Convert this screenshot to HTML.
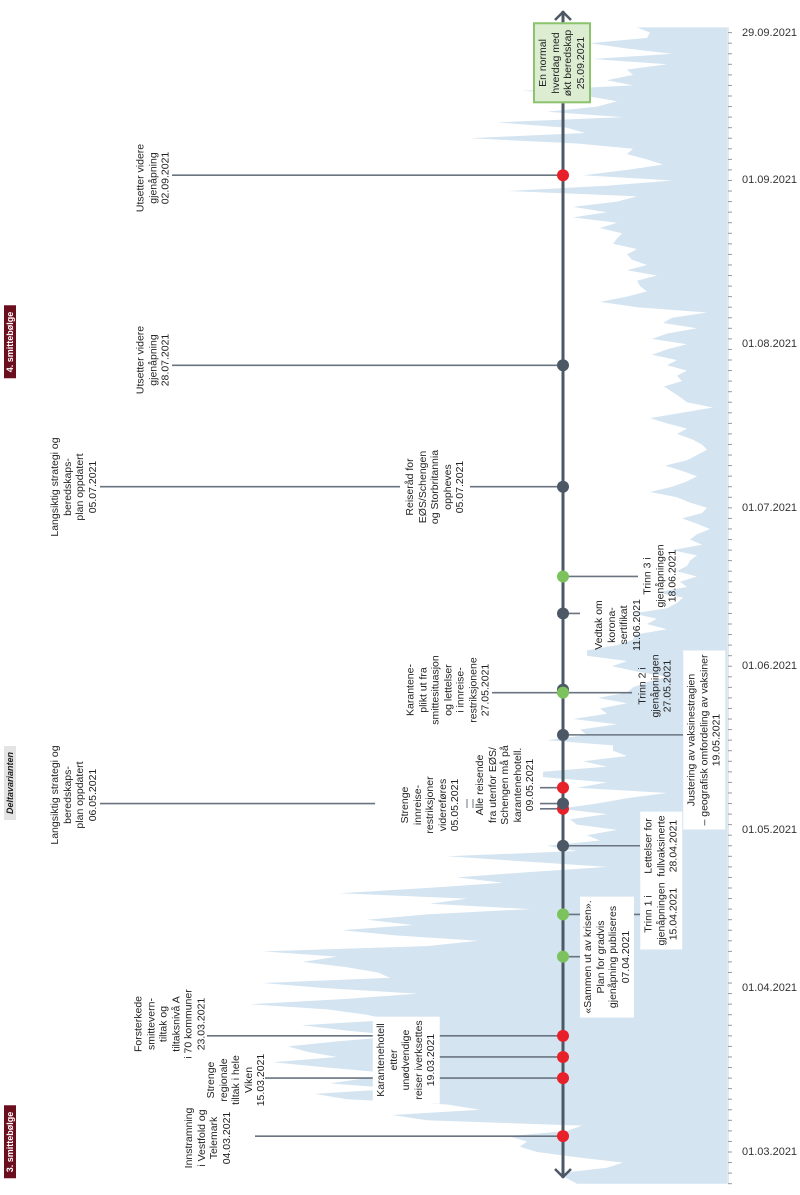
<!DOCTYPE html>
<html><head><meta charset="utf-8">
<style>
html,body{margin:0;padding:0;background:#fff;}
#root{position:relative;width:800px;height:1195px;overflow:hidden;font-family:"Liberation Sans",sans-serif;color:#222;}
svg{position:absolute;left:0;top:0;}
.lbl{position:absolute;white-space:nowrap;text-align:center;font-size:10.5px;line-height:12.5px;transform:translate(-50%,-50%) rotate(-90deg);color:#222;}
.box{background:#fff;padding:2px 4px;}
.gbox{background:#dcedd2;border:2px solid #8cc46e;padding:2px 5px;}
.tag{position:absolute;white-space:nowrap;font-size:9px;font-weight:bold;transform:translate(-50%,-50%) rotate(-90deg);padding:1px 6px;}
.dl{position:absolute;font-size:11px;color:#333;transform:translateY(-50%);}
</style></head>
<body>
<div id="root">
<svg id="chart" width="800" height="1195"></svg>
</div>
<script>
// ---- data ----
const startDate = "2021-02-23"; // first day of case series
const cases = [150,160,167,120,104,150,190,207,200,219,160,145,300,335,247,280,380,412,330,397,360,340,400,454,390,420,439,387,324,380,425,337,360,400,477,380,310,400,464,337,349,380,424,390,464,300,249,330,385,314,360,300,197,297,260,387,300,224,270,200,120,200,280,150,180,127,140,110,150,157,120,167,130,100,60,150,120,184,184,120,144,100,114,114,180,140,147,110,154,120,127,100,129,100,94,80,60,90,115,100,140,140,110,94,92,60,80,70,94,60,50,44,70,40,47,30,50,40,37,30,55,25,37,30,17,30,45,25,20,37,50,77,55,40,30,45,62,40,30,20,25,35,50,40,60,77,45,14,40,47,55,63,45,50,40,60,50,75,60,40,75,60,30,64,55,20,90,127,100,80,87,90,70,100,80,95,100,90,114,110,105,127,110,154,120,154,110,90,220,120,55,144,100,64,80,100,94,150,257,142,160,230,104,180,130,110,140,204,94,120,94,100,60,134,55,100,137,80,77,90];
const tickDates = ["2021-03-01","2021-04-01","2021-05-01","2021-06-01","2021-07-01","2021-08-01","2021-09-01","2021-09-29"];
const tickLabels = ["01.03.2021","01.04.2021","01.05.2021","01.06.2021","01.07.2021","01.08.2021","01.09.2021","29.09.2021"];
const eventDates = ["2021-03-04","2021-03-15","2021-03-19","2021-03-23","2021-04-07","2021-04-15","2021-04-28","2021-05-05","2021-05-06","2021-05-09","2021-05-19","2021-05-27","2021-06-11","2021-06-18","2021-07-05","2021-07-28","2021-09-02"];
const eventTypes = ["red","red","red","red","green","green","dark","red","dark","red","dark","green","dark","green","dark","dark","red"];

// ---- scales ----
const DAY = 86400000;
const t0 = Date.UTC(2021,2,1);
function dayOf(s){const p=s.split("-");return (Date.UTC(+p[0],+p[1]-1,+p[2])-t0)/DAY;}
function yScale(d){return 1152 - d*5.28;}
function xScale(v){return 727 - v;}
const colors = {red:"#e8202a",dark:"#4d5866",green:"#7cc35e"};
const svg = document.getElementById('chart');
const NS = "http://www.w3.org/2000/svg";
function mk(tag, attrs){const e=document.createElementNS(NS,tag);for(const k in attrs)e.setAttribute(k,attrs[k]);svg.appendChild(e);return e;}

// area
const d0 = dayOf(startDate);
let pts = [];
cases.forEach((v,i)=>{pts.push(xScale(v).toFixed(1)+","+yScale(d0+i).toFixed(1));});
const yFirst = yScale(d0), yLast = yScale(d0+cases.length-1);
const area = mk('polygon',{points:"727,"+yFirst.toFixed(1)+" "+pts.join(" ")+" 727,"+yLast.toFixed(1),fill:"#d4e4f1"});



// right axis ticks
const rl = mk('line',{x1:728,y1:yLast,x2:728,y2:yFirst,stroke:"#c9d3dc","stroke-width":1});


for(let d=Math.ceil(d0);d<=d0+cases.length-1;d+=2){
  const t=mk('line',{x1:728,y1:yScale(d),x2:732,y2:yScale(d),stroke:"#999","stroke-width":1});
  
  
}
const root=document.getElementById('root');
tickDates.forEach((s,i)=>{
  const el=document.createElement('div');
  el.className='dl';
  el.style.left='742px';
  el.style.top=yScale(dayOf(s))+'px';
  el.textContent=tickLabels[i];
  
  
  root.appendChild(el);
});

// connector lines
const LC="#6a7480";
function conn(x1,x2,y,name){const l=mk('line',{x1:x1,y1:y,x2:x2,y2:y,stroke:LC,"stroke-width":1.6});}
const E = eventDates.map(s=>yScale(dayOf(s)));
conn(255,563,E[0],'connector-0403');
conn(265,563,E[1],'connector-1503');
conn(434,563,E[2],'connector-1903');
conn(207,563,E[3],'connector-2303');
conn(563,580,E[4],'connector-0704');
conn(563,640,E[5],'connector-1504');
conn(563,640,E[6],'connector-2804');
conn(540,563,E[7],'connector-0505');
conn(100,375,E[8],'connector-0605-left');
conn(540,563,E[8],'connector-0605');
conn(540,563,E[9],'connector-0905');
conn(563,683,E[10],'connector-1905');
conn(492,563,E[11],'connector-2705-left');
conn(563,632,E[11],'connector-2705-right');
conn(563,580,E[12],'connector-1106');
conn(563,638,E[13],'connector-1806');
conn(100,400,E[14],'connector-0507-left');
conn(470,563,E[14],'connector-0507');
conn(172,563,E[15],'connector-2807');
conn(172,563,E[16],'connector-0209');
// small bars
[467,473].forEach(x=>{const l=mk('line',{x1:x,y1:799,x2:x,y2:808,stroke:LC,"stroke-width":1});});

// main axis
const ax=mk('line',{x1:563,y1:11,x2:563,y2:1178,stroke:"#4d5866","stroke-width":3});


const a1=mk('polyline',{points:"555,20 563,12 571,20",fill:"none",stroke:"#4d5866","stroke-width":2.5});


const a2=mk('polyline',{points:"555,1169 563,1177 571,1169",fill:"none",stroke:"#4d5866","stroke-width":2.5});



// dots (dark under others for 27.05)
const ex = mk('circle',{cx:563,cy:E[11]-3,r:6,fill:colors.dark});


eventDates.forEach((s,i)=>{
  const c=mk('circle',{cx:563,cy:E[i],r:6,fill:colors[eventTypes[i]]});
  
  
});

// labels
function label(cx,cy,html,cls,name){
  const el=document.createElement('div');
  el.className='lbl'+(cls?' '+cls:'');
  el.style.left=cx+'px';el.style.top=cy+'px';
  el.innerHTML=html;
  
  
  root.appendChild(el);
}
label(208,1138,"Innstramning<br>i Vestfold og<br>Telemark<br>04.03.2021","",'label-innstramning');
label(236,1080,"Strenge<br>regionale<br>tiltak i hele<br>Viken<br>15.03.2021","",'label-viken');
label(170,1024,"Forsterkede<br>smittevern-<br>tiltak og<br>tiltaksnivå A<br>i 70 kommuner<br>23.03.2021","",'label-forsterkede');
label(406,1060,"Karantenehotell<br>etter<br>unødvendige<br>reiser iverksettes<br>19.03.2021","box",'label-karantenehotell');
label(607,957,"«Sammen ut av krisen».<br>Plan for gradvis<br>gjenåpning publiseres<br>07.04.2021","box",'label-sammen-ut');
label(661,914,"Trinn 1 i<br>gjenåpningen<br>15.04.2021","box",'label-trinn1');
label(661,846,"Lettelser for<br>fullvaksinerte<br>28.04.2021","box",'label-lettelser');
label(704,740,"Justering av vaksinestragien<br>– geografisk omfordeling av vaksiner<br>19.05.2021","box",'label-justering');
label(655,686,"Trinn 2 i<br>gjenåpningen<br>27.05.2021","",'label-trinn2');
label(618,625,"Vedtak om<br>korona-<br>sertifikat<br>11.06.2021","",'label-vedtak');
label(660,576,"Trinn 3 i<br>gjenåpningen<br>18.06.2021","",'label-trinn3');
label(448,690,"Karantene-<br>plikt ut fra<br>smittesituasjon<br>og lettelser<br>i innreise-<br>restriksjonene<br>27.05.2021","",'label-karanteneplikt');
label(430,805,"Strenge<br>innreise-<br>restriksjoner<br>videreføres<br>05.05.2021","",'label-strenge-innreise');
label(505,785,"Alle reisende<br>fra utenfor EØS/<br>Schengen må på<br>karantenehotell.<br>09.05.2021","",'label-alle-reisende');
label(74,795,"Langsiktig strategi og<br>beredskaps-<br>plan oppdatert<br>06.05.2021","",'label-langsiktig-0605');
label(435,487,"Reiseråd for<br>EØS/Schengen<br>og Storbritannia<br>oppheves<br>05.07.2021","",'label-reiseraad');
label(74,487,"Langsiktig strategi og<br>beredskaps-<br>plan oppdatert<br>05.07.2021","",'label-langsiktig-0507');
label(153,360,"Utsetter videre<br>gjenåpning<br>28.07.2021","",'label-utsetter-2807');
label(153,178,"Utsetter videre<br>gjenåpning<br>02.09.2021","",'label-utsetter-0209');
label(562,63,"En normal<br>hverdag med<br>økt beredskap<br>25.09.2021","gbox",'label-normal-hverdag');

function tag(cy,text,bg,fg,style,name){
  const el=document.createElement('div');
  el.className='tag';
  el.style.left='10px';el.style.top=cy+'px';
  el.style.background=bg;el.style.color=fg;
  if(style)el.style.fontStyle=style;
  el.textContent=text;
  
  
  root.appendChild(el);
}
tag(1142,"3. smittebølge","#6b0f1f","#fff","",'wave-3-tag');
tag(342,"4. smittebølge","#6b0f1f","#fff","",'wave-4-tag');
tag(783,"Deltavarianten","#e4e4e4","#222","italic",'delta-tag');
</script>
</body></html>
